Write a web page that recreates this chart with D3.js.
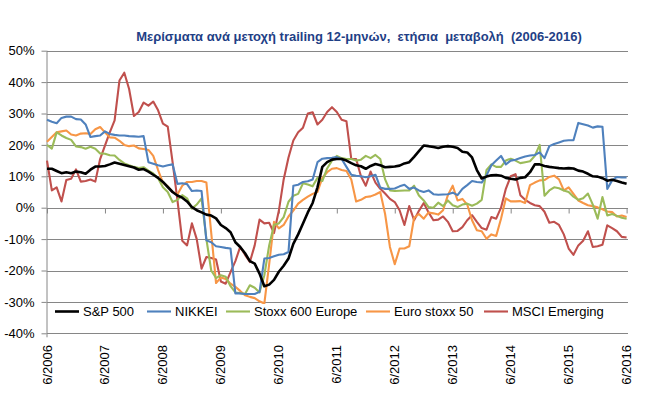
<!DOCTYPE html>
<html><head><meta charset="utf-8">
<script src="https://cdn.jsdelivr.net/npm/d3@7"></script>
<style>body{margin:0;background:#fff}svg{display:block}text{font-family:Arial,"Liberation Sans",sans-serif}.ttl{white-space:pre}</style>
</head><body><svg id="c" width="650" height="408"></svg>
<script>
const title = "Μερίσματα ανά μετοχή trailing 12-μηνών,  ετήσια  μεταβολή  (2006-2016)";
const tickLabels = ["6/2006","6/2007","6/2008","6/2009","6/2010","6/2011","6/2012","6/2013","6/2014","6/2015","6/2016"];
const yTicks = [-40,-30,-20,-10,0,10,20,30,40,50];
const seriesNames = ["S&P 500","NIKKEI","Stoxx 600 Europe","Euro stoxx 50","MSCI Emerging"];
const seriesColors = ["#000000","#4F81BD","#9BBB59","#F79646","#C0504D"];

// monthly values, 6/2006 .. 6/2016 (%)
const sp500 = [12.4,12.4,11.7,11.0,11.3,11.0,11.5,11.3,10.8,12.1,
13.1,13.1,13.3,13.8,14.4,14.0,13.6,13.2,12.8,12.1,
12.3,11.5,10.5,9.5,8.2,6.6,5.0,3.9,3.2,2.0,
0.2,-0.8,-1.5,-2.2,-2.5,-3.4,-5.5,-6.5,-7.8,-11.0,
-12.5,-14.5,-17.0,-17.8,-21.0,-25.0,-24.5,-23.0,-20.4,-18.5,
-16.2,-11.5,-8.5,-5.0,-1.5,1.5,6.5,13.0,14.5,15.3,
15.5,15.5,15.0,14.2,13.5,13.2,12.4,13.3,13.9,13.5,
12.9,13.0,13.1,13.4,14.1,14.5,16.2,18.0,19.8,19.6,
19.3,19.0,19.4,19.6,19.4,19.0,17.8,17.6,16.0,12.0,
9.3,9.9,10.3,10.4,10.2,9.5,9.2,9.0,9.5,9.7,
11.3,13.8,13.8,13.3,13.0,12.8,12.6,12.5,12.6,12.5,
11.8,11.5,10.8,10.0,9.9,9.4,8.6,8.9,8.5,8.0,7.6];
const nikkei = [28.0,27.4,26.9,28.6,29.0,29.0,28.2,28.1,26.5,22.5,
22.8,23.0,24.3,23.5,23.2,23.0,23.0,22.8,22.7,22.6,
22.8,14.5,14.0,13.5,13.1,13.5,13.8,7.6,7.8,7.5,
5.3,5.5,5.3,-10.4,-11.0,-12.3,-12.5,-12.8,-13.0,-27.3,
-27.3,-27.5,-27.5,-27.5,-26.8,-16.2,-16.0,-15.5,-15.0,-14.8,
-14.1,7.0,7.3,8.2,8.4,9.0,14.5,15.6,15.8,15.9,
16.1,15.5,13.0,10.5,10.2,10.0,9.7,10.0,10.5,6.4,
6.0,6.0,6.1,6.8,7.3,6.0,6.4,5.5,5.0,5.5,
4.3,4.1,4.2,4.3,4.8,4.0,6.0,7.2,8.5,8.2,
8.0,10.3,13.5,15.0,16.5,13.8,15.0,15.3,15.8,16.3,
16.6,16.8,17.6,15.8,19.6,20.3,20.8,21.3,21.5,21.5,
27.0,26.6,26.2,25.5,25.9,25.8,6.0,8.7,9.8,9.6,9.6];
const stoxx600 = [20.0,18.8,24.0,23.0,22.2,21.6,19.5,19.3,18.8,19.4,
18.8,17.3,17.2,16.7,16.6,15.2,14.1,13.5,13.0,12.6,
12.9,11.8,10.9,9.4,6.5,5.0,1.8,2.5,4.0,3.0,
-0.3,1.0,3.0,-10.0,-20.0,-22.4,-21.5,-22.0,-25.0,-27.0,
-27.2,-27.5,-24.7,-25.5,-27.0,-21.5,-12.0,-5.4,-5.0,-3.0,
1.9,3.8,4.4,7.8,7.4,6.8,9.5,8.5,12.5,15.0,
16.5,15.8,15.5,15.5,15.0,15.3,16.5,15.8,16.8,15.5,
9.0,5.5,5.3,5.4,5.5,5.5,7.0,3.9,2.3,0.2,
0.0,1.6,0.5,2.3,0.8,0.2,1.0,1.3,0.6,1.3,
2.5,12.0,13.8,13.0,13.0,15.0,15.6,15.0,14.2,14.5,
14.8,16.5,20.0,3.8,5.5,6.5,6.2,5.5,5.0,3.5,
2.5,3.0,4.5,1.0,-3.5,3.4,-2.5,-2.0,-2.6,-3.2,-3.5];
const eurostoxx50 = [21.0,22.5,24.0,24.3,24.6,23.3,23.0,23.6,23.7,23.5,
25.0,25.7,24.0,22.4,22.3,21.3,20.0,19.6,19.8,18.9,
18.7,18.4,16.5,12.0,8.0,6.8,5.0,4.2,7.0,8.2,
8.2,8.5,8.5,8.0,-8.0,-24.0,-22.2,-22.7,-24.2,-25.2,
-26.5,-27.9,-28.4,-28.8,-29.8,-30.5,-18.0,-4.5,-6.6,-5.5,
-2.8,-0.9,1.3,2.5,3.5,4.4,5.0,9.5,11.3,12.4,
12.6,12.0,11.7,9.0,2.0,2.5,3.4,3.6,4.2,5.0,
-2.0,-12.5,-18.0,-13.0,-13.0,-12.3,-3.2,-2.0,-3.5,-1.5,
-1.8,-2.2,-0.8,4.0,7.0,2.3,2.8,1.0,-4.0,-7.2,
-7.5,-9.9,-8.5,-9.0,-3.5,3.0,2.0,2.0,2.1,1.5,
7.2,8.0,8.7,8.8,9.8,10.2,9.0,5.5,6.5,4.4,
2.3,1.5,0.8,0.5,0.1,-0.5,-1.2,-1.4,-2.8,-2.5,-3.0];
const msciEm = [15.0,5.5,6.5,2.0,8.8,9.2,12.2,8.3,8.5,9.0,
8.3,15.5,19.8,24.0,27.8,40.5,43.0,37.8,29.2,30.5,
33.5,32.5,33.8,31.0,26.8,25.8,14.5,2.5,-10.5,-12.0,
-5.0,-10.0,-19.4,-15.7,-16.0,-16.5,-23.5,-24.2,-20.5,-17.0,
-12.5,-15.0,-17.3,-12.0,-3.8,-5.0,-4.8,-8.1,-1.0,9.0,
16.0,21.4,24.0,25.5,30.0,30.4,26.5,28.0,30.5,32.0,
30.5,28.0,27.5,15.5,15.5,10.0,7.0,11.5,8.0,6.0,
4.5,2.8,1.8,-0.8,-5.5,0.5,-4.0,-1.0,1.5,-1.5,
-4.0,-3.8,-2.8,-4.5,-7.5,-7.4,-6.2,-4.0,-2.4,-4.5,
-6.5,-7.0,-3.0,-3.5,0.0,6.0,10.0,10.7,4.0,2.5,
1.5,0.8,0.5,-1.3,-4.8,-4.5,-5.5,-8.5,-13.0,-15.0,
-12.0,-10.5,-7.5,-12.5,-12.3,-11.8,-5.6,-6.5,-7.5,-9.3,-9.5];

const seriesValues = [sp500, nikkei, stoxx600, eurostoxx50, msciEm];

const svg = d3.select("#c");
const x = d3.scaleLinear().domain([0, 120]).range([47, 626.6]);
const y = d3.scaleLinear().domain([-40, 50]).range([333.3, 50.7]);
const gridColor = "#868686";

// gridlines
svg.append("g").selectAll("line").data(yTicks).join("line")
  .attr("x1", 46.7).attr("x2", 628)
  .attr("y1", d => Math.round(y(d)) + 0.5).attr("y2", d => Math.round(y(d)) + 0.5)
  .attr("stroke", gridColor).attr("stroke-width", 1);

// y axis
const yAxis = d3.axisLeft(y).tickValues(yTicks).tickFormat(d => d + "%").tickSize(5).tickPadding(7);
const gy = svg.append("g").attr("transform", "translate(46.5,0)").call(yAxis);
gy.select(".domain").attr("stroke", gridColor).attr("d", `M0.5,${y(50)}V${y(-40)+4}`);
gy.selectAll(".tick line").attr("stroke", gridColor);
gy.selectAll(".tick text").attr("font-size", 13).attr("fill", "#000").attr("font-family", "Arial, 'Liberation Sans', sans-serif");

// x axis ticks at 0 line
const xAxis = d3.axisBottom(x).tickValues(d3.range(0, 121, 12)).tickFormat("").tickSize(5).tickSizeOuter(0);
const gx = svg.append("g").attr("transform", `translate(0,${Math.round(y(0)) + 0.5})`).call(xAxis);
gx.select(".domain").remove();
gx.selectAll(".tick line").attr("stroke", gridColor);

// x labels at bottom, rotated
svg.append("g").selectAll("text").data(tickLabels).join("text")
  .attr("transform", (d, i) => `translate(${x(i * 12) + 4.5},345) rotate(-90)`)
  .attr("text-anchor", "end")
  .attr("font-size", 13).attr("fill", "#000")
  .text(d => d);

// lines
const line = d3.line().x((d, i) => x(i)).y(d => y(d));
const order = [4, 3, 2, 1, 0];
svg.append("g").selectAll("path").data(order).join("path")
  .attr("d", k => line(seriesValues[k]))
  .attr("fill", "none")
  .attr("stroke", k => seriesColors[k])
  .attr("stroke-width", k => k === 0 ? 2.6 : 2.1)
  .attr("stroke-linejoin", "round");

// legend
const legendX = [51, 143, 222, 362, 480];
const lg = svg.append("g");
lg.append("rect").attr("x", 48).attr("y", 304).attr("width", 578).attr("height", 17).attr("fill", "#fff");
seriesNames.forEach((n, i) => {
  lg.append("line").attr("x1", legendX[i] + 4).attr("x2", legendX[i] + 28)
    .attr("y1", 311.5).attr("y2", 311.5)
    .attr("stroke", seriesColors[i]).attr("stroke-width", i === 0 ? 2.6 : 2.1);
  lg.append("text").attr("x", legendX[i] + 32).attr("y", 316).attr("font-size", 13).attr("fill", "#000").text(n);
});

// title
svg.append("text").attr("class", "ttl").attr("x", 359).attr("y", 41).attr("text-anchor", "middle")
  .attr("font-size", 13).attr("font-weight", "bold").attr("fill", "#1F3F86").text(title);
</script></body></html>
